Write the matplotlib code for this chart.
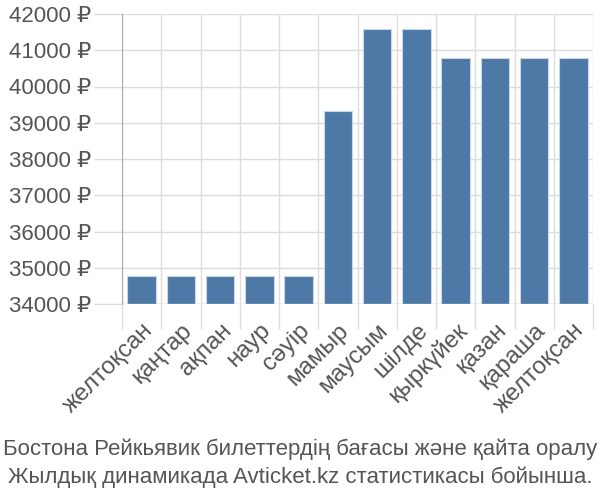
import matplotlib
matplotlib.use("Agg")
import matplotlib.pyplot as plt
import numpy as np

months = ["желтоқсан", "қаңтар", "ақпан", "наур", "сәуір", "мамыр", "маусым",
          "шілде", "қыркүйек", "қазан", "қараша", "желтоқсан"]
prices = [34780, 34780, 34780, 34780, 34780, 39330, 41600, 41600, 40790, 40790, 40790, 40790]
yticks = [34000, 35000, 36000, 37000, 38000, 39000, 40000, 41000, 42000]
title_lines = ["Бостона Рейкьявик билеттердің бағасы және қайта оралу",
               "Жылдық динамикада Avticket.kz статистикасы бойынша."]

plt.rcParams['font.family'] = ['Liberation Sans', 'DejaVu Sans']
txt = '#555555'

fig = plt.figure(figsize=(6, 5), dpi=100)
ax = fig.add_axes([122/600, 1 - 304/500, (593-122)/600, (304-14)/500])
x = np.arange(len(months))
ax.bar(x, prices, width=0.72, color='#4e79a7', edgecolor='#c8d6e5', linewidth=0.8, zorder=3)
ax.set_xlim(-0.5, len(months) - 0.5)
ax.set_ylim(34000, 42000)
ax.set_yticks(yticks)
ax.set_yticklabels([f"{v} ₽" for v in yticks], fontsize=16, color=txt)
ax.set_xticks(x)
ax.set_xticklabels(months, rotation=45, ha='right', rotation_mode='anchor', fontsize=17.5, color=txt)
ax.set_xticks(np.arange(-0.5, len(months), 1), minor=True)
ax.tick_params(axis='x', which='major', length=0, pad=11)
ax.tick_params(axis='x', which='minor', length=18, color='#dddddd', width=1)
ax.tick_params(axis='y', length=20, color='#dddddd', width=1, pad=2)
ax.grid(True, axis='y', color='#dddddd', linewidth=1, zorder=0)
ax.grid(True, axis='x', which='minor', color='#dddddd', linewidth=1, zorder=0)
for s in ['top', 'right', 'bottom']:
    ax.spines[s].set_visible(False)
ax.spines['left'].set_color('#aaaaaa')
ax.spines['left'].set_bounds(34000, 42000)
ax.axhline(34000, color='#cccccc', linewidth=1, zorder=4)
fig.text(0.5, 1 - 455/500, title_lines[0], ha='center', va='baseline', fontsize=16, color=txt)
fig.text(0.5, 1 - 483/500, title_lines[1], ha='center', va='baseline', fontsize=16, color=txt)
fig.savefig("out.png", dpi=100)
